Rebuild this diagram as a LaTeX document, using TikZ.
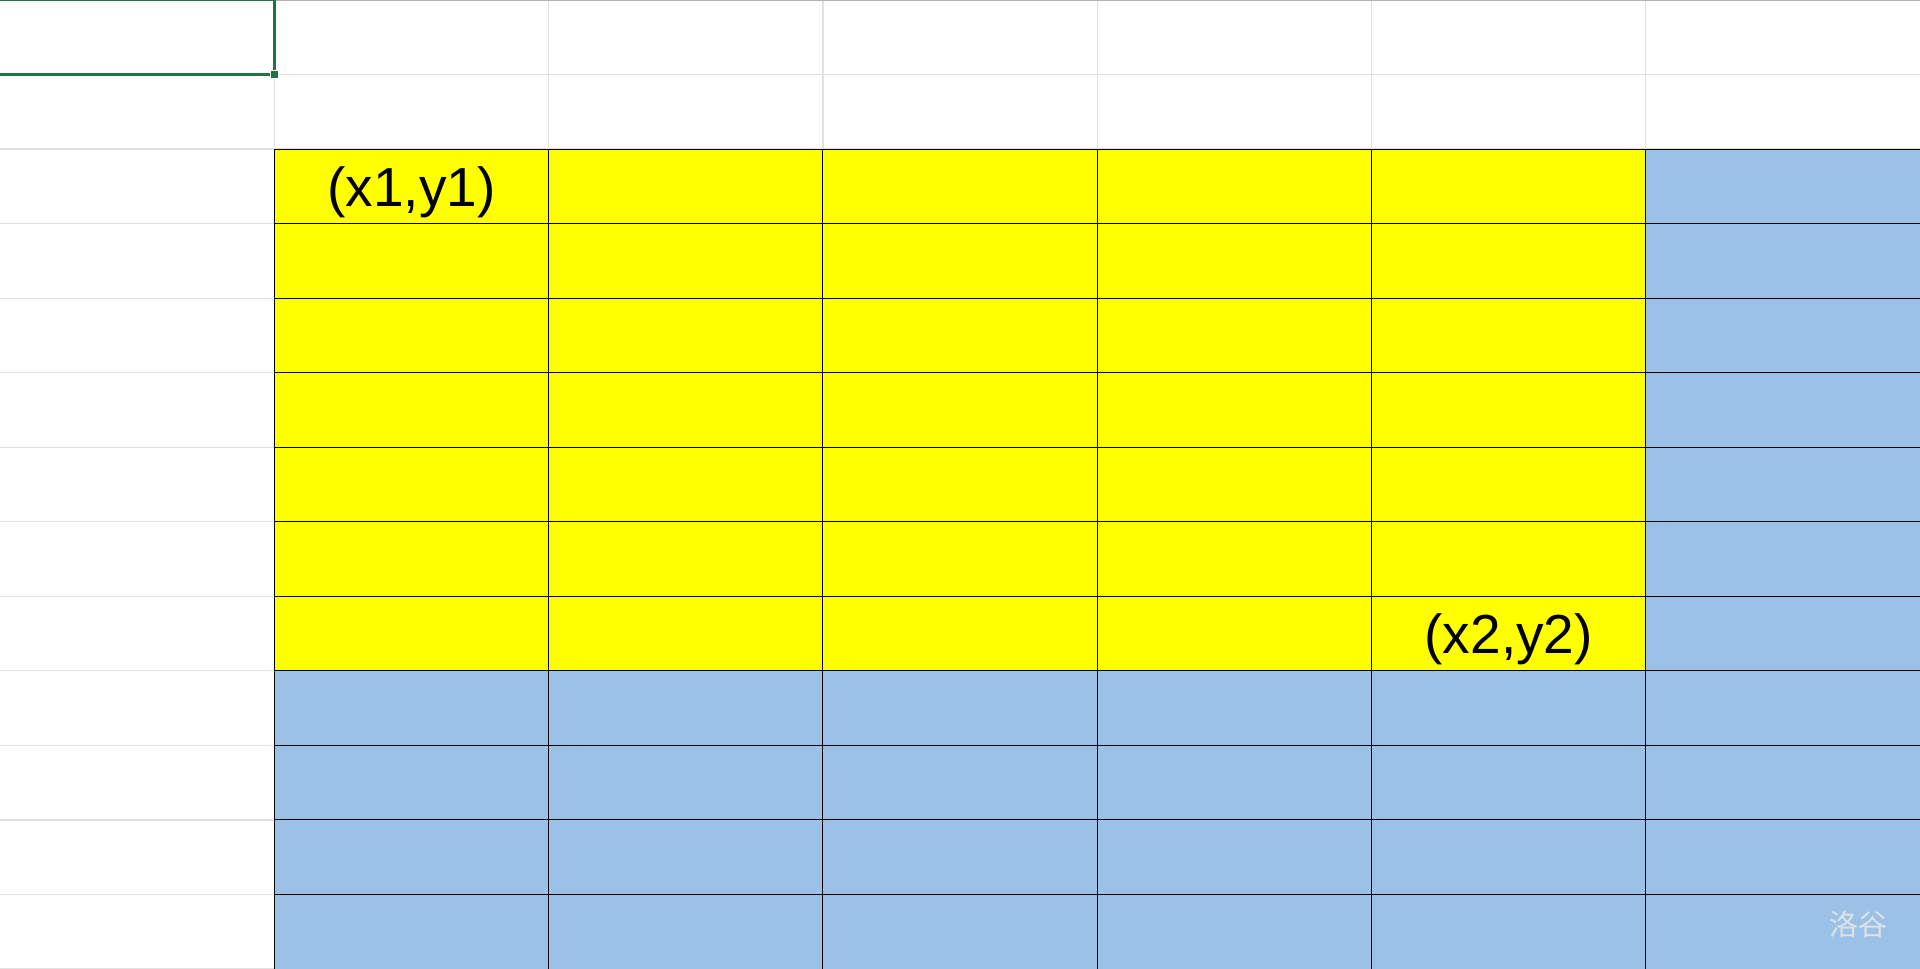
\documentclass[tikz,border=0pt]{standalone}
\usepackage{fontspec}
\setmainfont{Liberation Sans}
\newfontfamily\cjk{Noto Sans CJK SC}
\usepackage{tikz}

\definecolor{gridgray}{RGB}{225,225,225}
\definecolor{cellyellow}{RGB}{255,255,0}
\definecolor{cellblue}{RGB}{155,194,230}
\definecolor{selgreen}{RGB}{33,115,70}
\definecolor{markgray}{RGB}{222,226,231}

\tikzset{
  gridline/.style={draw=gridgray,line width=1.2pt},
  cellline/.style={draw=black,line width=0.9pt},
  coord/.style={font=\fontsize{55}{60}\selectfont,inner sep=0pt}
}

\begin{document}
\begin{tikzpicture}[x=274.3pt,y=-74.54pt]
\useasboundingbox (0pt,0pt) rectangle (1920pt,-969pt);
\clip (0pt,0pt) rectangle (1920pt,-969pt);
\fill[white] (0,0) rectangle (7,13);

% empty sheet grid
\foreach \r in {1,...,13}
   \draw[gridline] (0,\r) -- (7,\r);
\foreach \c in {1,...,6}
   \draw[gridline] (\c,0) -- (\c,2);
\draw[gray!60,line width=1.5pt] (0,0) -- (7,0);

% coloured block
\fill[cellyellow] (1,2) rectangle (6,9);
\fill[cellblue] (6,2) rectangle (7,9);
\fill[cellblue] (1,9) rectangle (7,13);
\foreach \r in {2,...,13}
   \draw[cellline] (1,\r) -- (7,\r);
\foreach \c in {1,...,6}
   \draw[cellline] (\c,2) -- (\c,13);

% selected cell
\draw[selgreen,line width=2.6pt] (-0.1,0) rectangle (1,1);
\fill[selgreen,draw=white,line width=0.8pt] ([xshift=-4pt,yshift=4pt]1,1) rectangle ([xshift=4pt,yshift=-4pt]1,1);

\path node[coord] (1) at ([yshift=-6pt]1.5,2.5) {(x1,y1)}
      node[coord] (2) at ([yshift=-6pt]5.5,8.5) {(x2,y2)}
      node[text=markgray,font=\cjk\fontsize{29}{32}\selectfont,inner sep=0pt] (3) at (1858pt,-924pt) {洛谷};
\end{tikzpicture}
\end{document}
